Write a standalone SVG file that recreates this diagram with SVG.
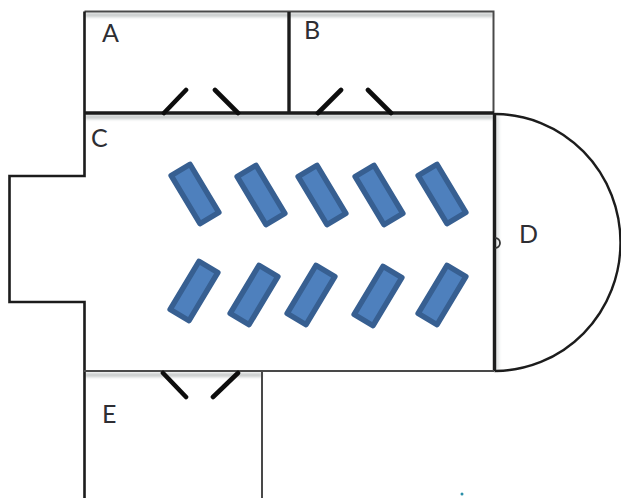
<svg xmlns="http://www.w3.org/2000/svg" width="621" height="498" viewBox="0 0 621 498">
<style>
.wall{fill:none;stroke:#1c1c1c;stroke-width:2.6}
.thin{fill:none;stroke:#4a4a4a;stroke-width:2}
.door{fill:none;stroke:#111;stroke-width:4.600;stroke-linecap:round}
.shadow{fill:none;stroke:#c4c8c8;stroke-width:4}
.seat{fill:#4e80bd;stroke:#375f91;stroke-width:5.500;stroke-linejoin:round}
text{font-family:"Lato","Open Sans",sans-serif;font-size:25px;fill:#2e2e33}
</style>
<defs>
<filter id="soft" x="-5%" y="-5%" width="110%" height="110%"><feGaussianBlur stdDeviation="1.8"/></filter>
<filter id="edge" x="-2%" y="-2%" width="104%" height="104%"><feGaussianBlur stdDeviation="0.4"/></filter>
</defs>
<rect width="621" height="498" fill="#fff"/>
<g id="shadows" filter="url(#soft)">
<path class="shadow" d="M85 15H493M85 117H493M85 375H262"/>
<path class="shadow" d="M497 115V370" stroke-opacity=".5"/>
</g>
<g id="walls" filter="url(#edge)">
<path class="thin" d="M84.500 11.500H493.500V113"/>
<path class="wall" d="M84.500 11.500V176H9.500V302H84.500V372"/>
<path class="wall" style="stroke-width:3.400" d="M84 113H494"/>
<path class="wall" style="stroke-width:3.400" d="M289 12V113"/>
<path class="wall" style="stroke-width:3.400" d="M494.500 113V371"/>
<path class="thin" d="M84 371H494"/>
<path class="wall" d="M84.500 372V498"/>
<path class="thin" d="M262 372V498"/>
<path class="wall" style="stroke-width:2.400" d="M494.500 114A126 128.500 0 0 1 494.500 371"/>
<path class="wall" style="stroke-width:1.800;stroke:#333" d="M495 238A5 5 0 0 1 495 248"/>
</g>
<g id="doors" filter="url(#edge)">
<path class="door" d="M164 113L186 90M215 90L238 113M318 113L341 90M368 90L391 113M163 373L186 397M238 373L213 397"/>
</g>
<g id="seats">
<rect class="seat" x="-11" y="-28" width="22" height="56" transform="translate(195 194) rotate(-31)"/>
<rect class="seat" x="-11" y="-28" width="22" height="56" transform="translate(261 195) rotate(-31)"/>
<rect class="seat" x="-11" y="-28" width="22" height="56" transform="translate(322 195) rotate(-31)"/>
<rect class="seat" x="-11" y="-28" width="22" height="56" transform="translate(379 195) rotate(-31)"/>
<rect class="seat" x="-11" y="-28" width="22" height="56" transform="translate(442 194) rotate(-31)"/>
<rect class="seat" x="-11" y="-28" width="22" height="56" transform="translate(194 291) rotate(31)"/>
<rect class="seat" x="-11" y="-28" width="22" height="56" transform="translate(254 295) rotate(31)"/>
<rect class="seat" x="-11" y="-28" width="22" height="56" transform="translate(311 295) rotate(31)"/>
<rect class="seat" x="-11" y="-28" width="22" height="56" transform="translate(378 296) rotate(31)"/>
<rect class="seat" x="-11" y="-28" width="22" height="56" transform="translate(442 295) rotate(31)"/>
</g>
<g id="labels">
<text x="102" y="42">A</text>
<text x="304" y="39">B</text>
<text x="91" y="147">C</text>
<text x="519" y="243">D</text>
<text x="102" y="423">E</text>
</g>
<circle cx="462" cy="494" r="1.500" fill="#2a8fa8"/>
</svg>
